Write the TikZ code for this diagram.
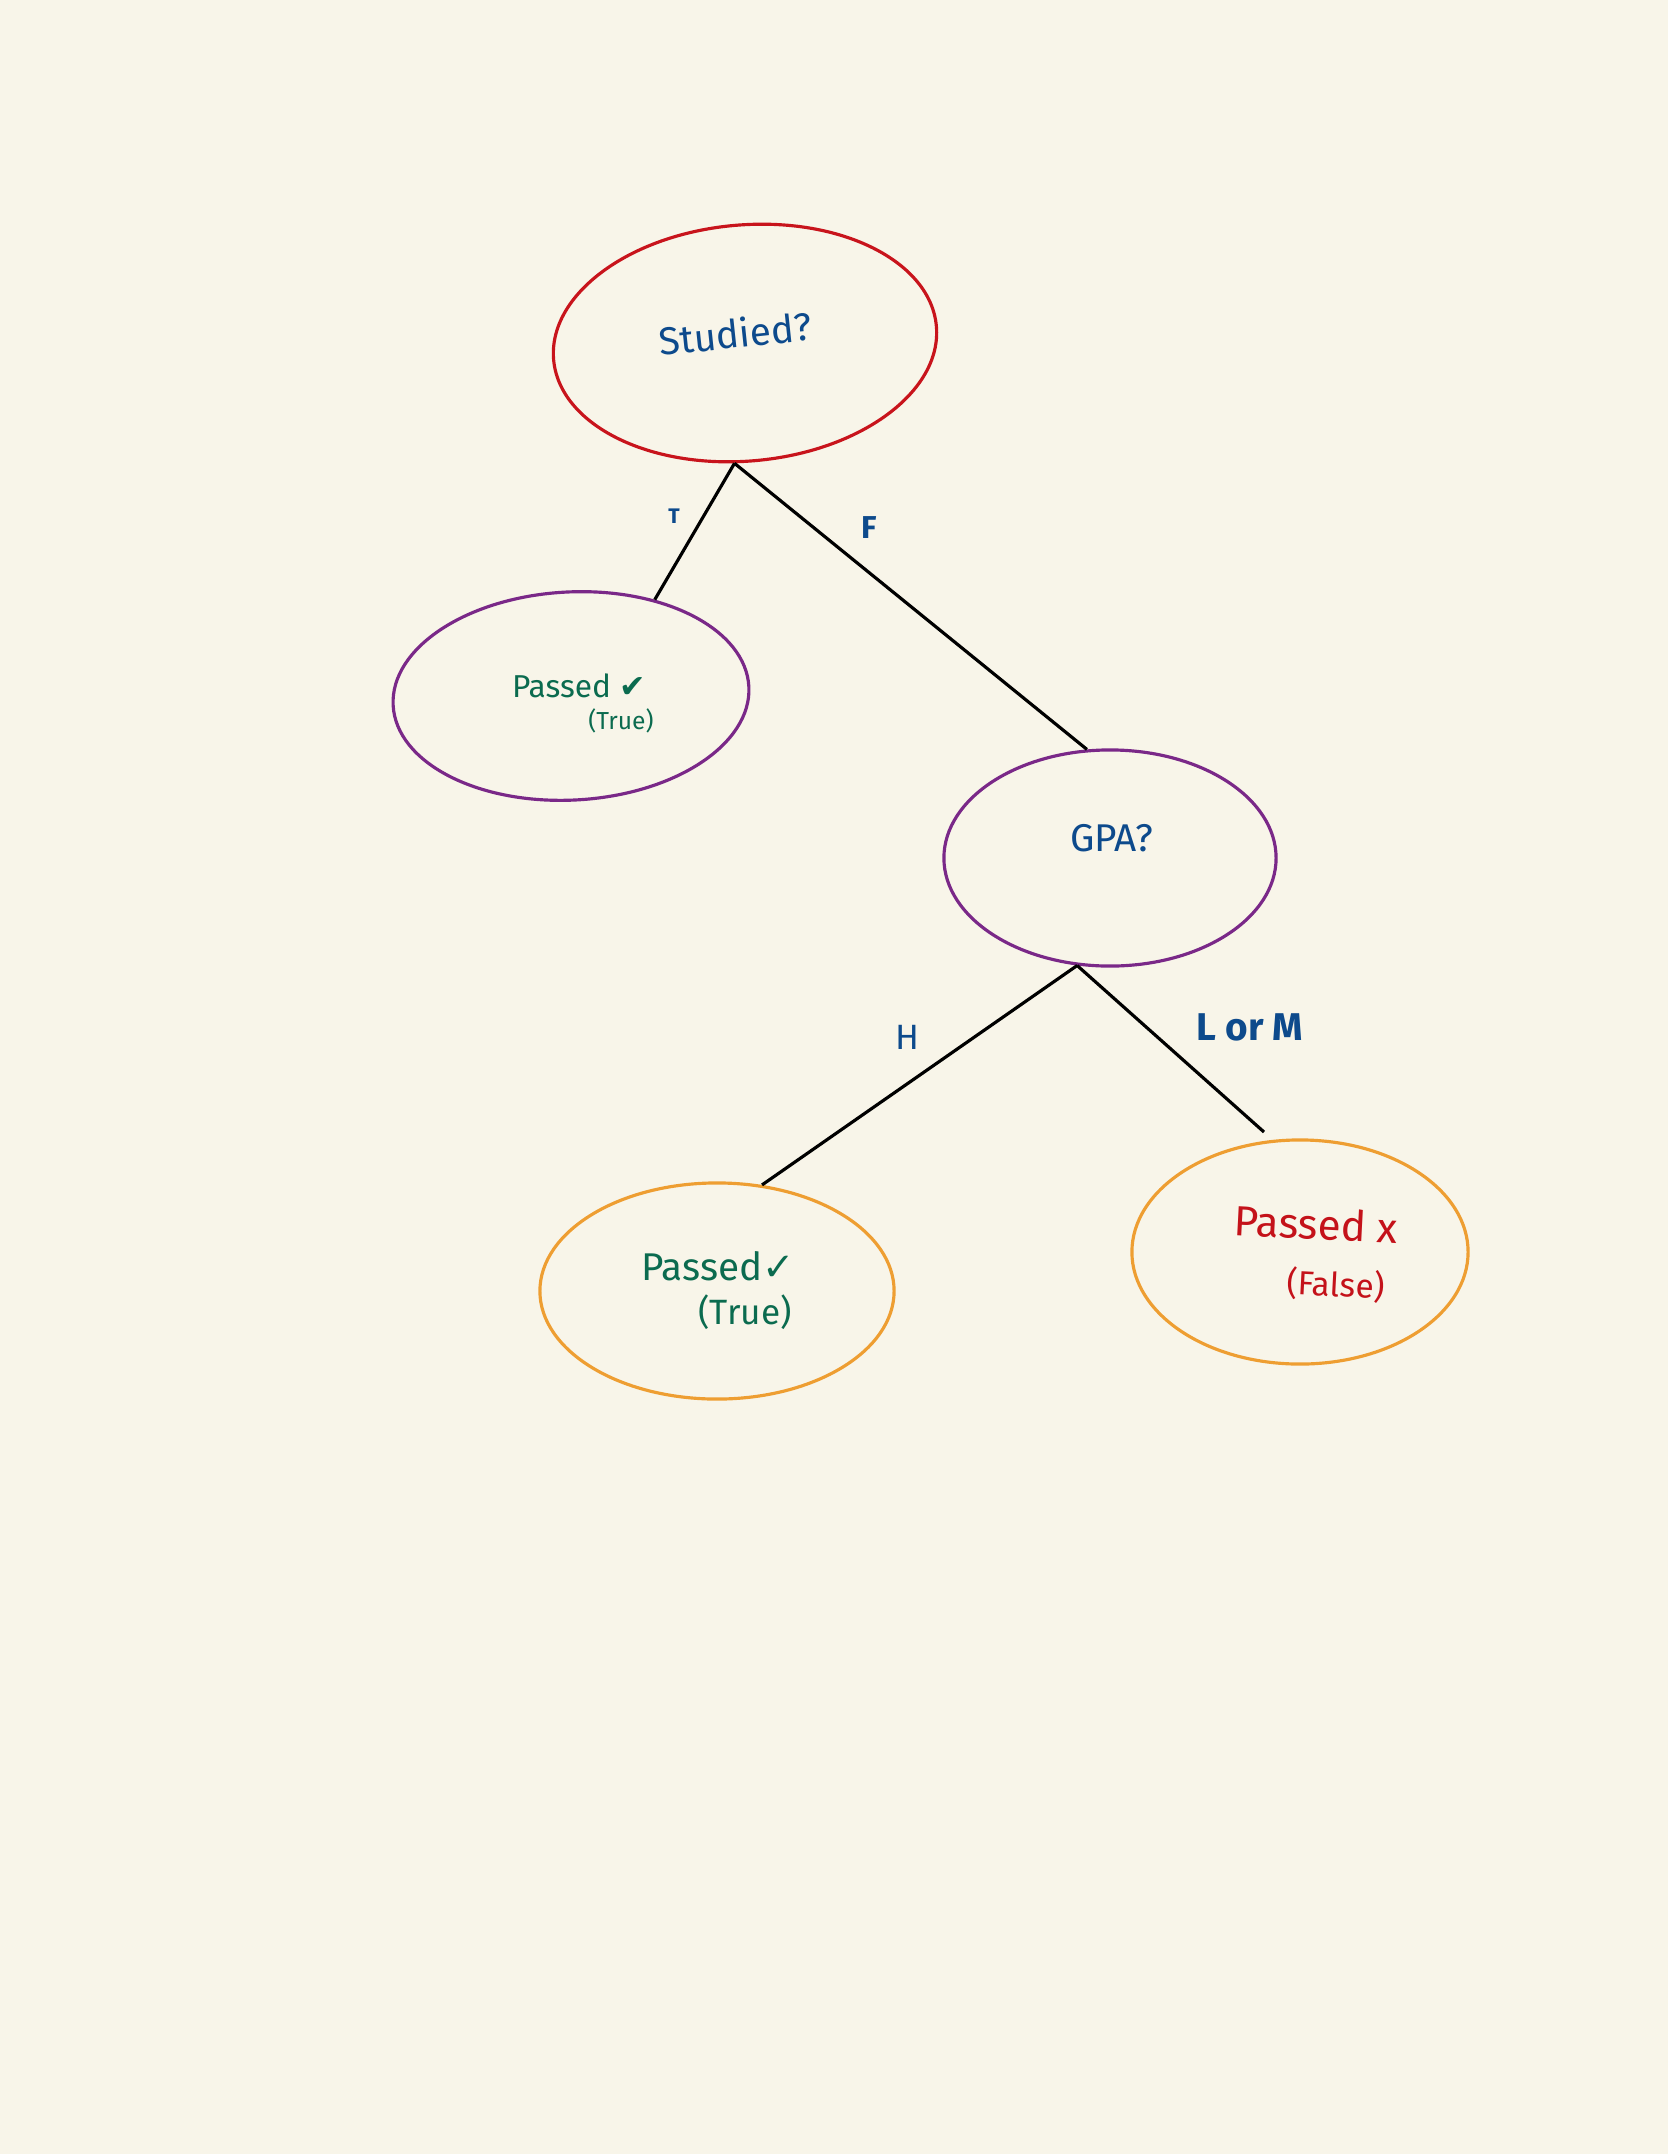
\documentclass[tikz,border=0pt]{standalone}
\usepackage{fontspec}
\setmainfont{Fira Sans}
\newfontfamily\symfont{DejaVu Sans}
\usetikzlibrary{shapes.geometric}
\definecolor{paper}{HTML}{F8F5E9}
\definecolor{inkblue}{HTML}{0D4A8C}
\definecolor{inkgreen}{HTML}{0B6B4F}
\definecolor{inkred}{HTML}{C4121A}
\definecolor{rootred}{HTML}{C8141C}
\definecolor{midpurple}{HTML}{7A2888}
\definecolor{leaforange}{HTML}{EE9E32}
\tikzset{
    rootnode/.style = {ellipse, draw=rootred, line width=0.9pt, inner sep=0pt, minimum width=3.84cm, minimum height=2.36cm},
    midnode/.style = {ellipse, draw=midpurple, line width=0.9pt, inner sep=0pt},
    leafnode/.style = {ellipse, draw=leaforange, line width=0.9pt, inner sep=0pt},
    qtext/.style = {text=inkblue, inner sep=0pt, font=\fsz{11}},
    yestext/.style = {text=inkgreen, inner sep=0pt},
    notext/.style = {text=inkred, inner sep=0pt},
    brlabel/.style = {text=inkblue, inner sep=0pt, font=\bfseries},
    branch/.style = {draw=black, line width=0.9pt}
}
\newcommand{\fsz}[1]{\fontsize{#1}{#1}\selectfont}
\newcommand{\Y}{{\symfont ✓}}
\newcommand{\YY}{{\symfont ✔}}

\begin{document}
\begin{tikzpicture}[x=0.01cm, y=-0.01cm]
\fill[paper] (0,0) rectangle (1668,2154);
% ellipses
\node[rootnode, rotate=5] at (745,343) (studied) {};
\node[midnode, rotate=3, minimum width=3.56cm, minimum height=2.08cm] at (571,696) (passL) {};
\node[midnode, minimum width=3.32cm, minimum height=2.16cm] at (1110,858) (gpa) {};
\node[leafnode, minimum width=3.54cm, minimum height=2.16cm] at (717,1291) (passT) {};
\node[leafnode, minimum width=3.36cm, minimum height=2.24cm] at (1300,1252) (passF) {};
%
\node[qtext, rotate=6] at (735,333) (studiedtxt) {Studied?};
\node[yestext, font=\fsz{9}] at (579,686) (passLtxt) {Passed \YY};
\node[yestext, font=\fsz{7}] at (621,721) (passLsub) {(True)};
\node[qtext] at (1112,838) (gpatxt) {GPA?};
\node[yestext, font=\fsz{11}] at (718,1266) (passTtxt) {Passed\Y};
\node[yestext, font=\fsz{10}] at (745,1312) (passTsub) {(True)};
\node[notext, font=\fsz{12}, rotate=-3] at (1316,1224) (passFtxt) {Passed x};
\node[notext, font=\fsz{9.5}, rotate=-3] at (1336,1285) (passFsub) {(False)};
%
\coordinate (lmend) at (1264,1132);
\draw[branch] (studied.260) -- (passL.46);
\draw[branch] (studied.260) -- (gpa.102);
\draw[branch] (gpa.253) -- (passT.67);
\draw[branch] (gpa.253) -- (lmend);
%
\node[brlabel, font=\fsz{6}\bfseries] at (674,516) (tlab) {T};
\node[brlabel, font=\fsz{9}\bfseries] at (869,528) (flab) {F};
\node[brlabel, font=\fsz{10}] at (907,1037) (hlab) {H};
\node[brlabel, font=\fsz{11}\bfseries] at (1250,1027) (lmlab) {L or M};

\end{tikzpicture}
\end{document}
